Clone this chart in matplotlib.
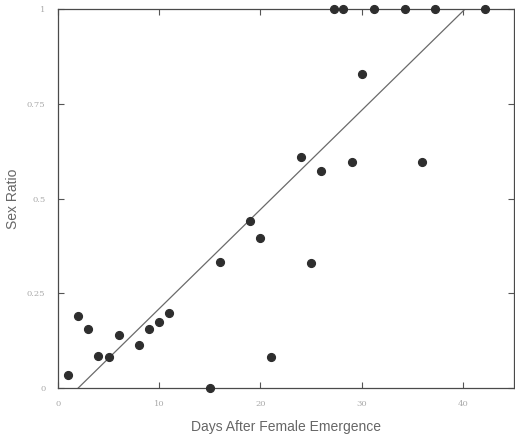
import matplotlib
matplotlib.use("Agg")
import matplotlib.pyplot as plt

days = [1, 2, 3, 4, 5, 6, 8, 9, 10, 11, 15, 16, 19, 20, 21, 24, 25, 26, 29, 30,
        36, 27.3, 28.2, 31.2, 34.3, 37.2, 42.2]
sex_ratio = [0.035, 0.189, 0.155, 0.085, 0.082, 0.140, 0.114, 0.156, 0.173, 0.199,
             0.0, 0.332, 0.44, 0.397, 0.081, 0.609, 0.331, 0.574, 0.597, 0.83,
             0.597, 1.0, 1.0, 1.0, 1.0, 1.0, 1.0]
fit_x = [2, 40.2]
fit_y = [0.0, 1.0]

xticks = [0, 10, 20, 30, 40]
xticklabels = ["0", "10", "20", "30", "40"]
yticks = [0, 0.25, 0.5, 0.75, 1]
yticklabels = ["0", "0.25", "0.5", "0.75", "1"]

fig = plt.figure(figsize=(5.15, 4.38), dpi=100)
ax = fig.add_axes([0.1126, 0.1142, 0.8845, 0.8648])
ax.plot(fit_x, fit_y, color="#6a6a6a", lw=0.9, zorder=2)
ax.plot(days, sex_ratio, 'o', color="#2e2e2e", ms=5.6, mec="#2e2e2e", clip_on=False, zorder=3)
ax.set_xlim(0, 45)
ax.set_ylim(0, 1)
ax.set_xticks(xticks)
ax.set_xticklabels(xticklabels, family="DejaVu Serif", fontsize=6, color="#aaaaaa")
ax.set_yticks(yticks)
ax.set_yticklabels(yticklabels, family="DejaVu Serif", fontsize=6, color="#aaaaaa")
ax.tick_params(direction="in", top=True, right=True, length=4, width=0.8, color="#555555", pad=9)
for s in ax.spines.values():
    s.set_color("#4a4a4a")
    s.set_linewidth(0.9)
ax.set_xlabel("Days After Female Emergence", family="Liberation Sans", fontsize=10, color="#666666", labelpad=8)
ax.set_ylabel("Sex Ratio", family="Liberation Sans", fontsize=10, color="#666666")
ax.yaxis.set_label_coords(-0.084, 0.5)
fig.savefig("out.png", dpi=100)
